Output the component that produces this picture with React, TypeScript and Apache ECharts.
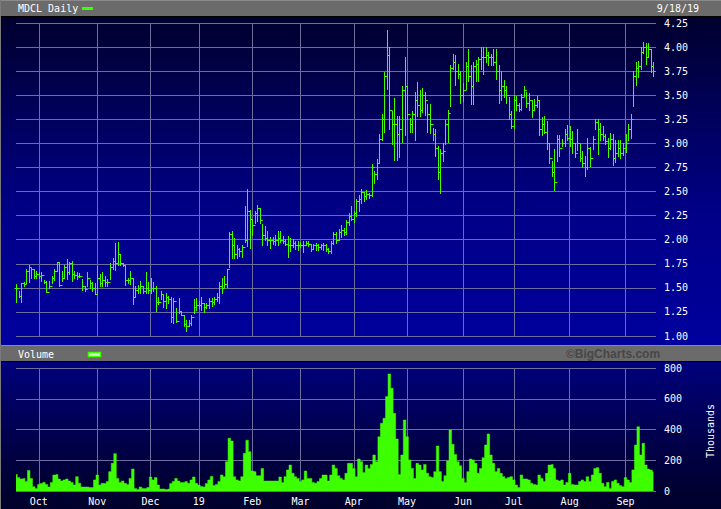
import React, { useEffect, useRef } from "react";
import * as echarts from "echarts";

// ---- categories: NYSE trading days 2018-09-18 .. 2019-09-18 ----
const START_DATE = "2018-09-18";
const END_DATE = "2019-09-18";
const HOLIDAYS = [
  "2018-11-22", "2018-12-05", "2018-12-25", "2019-01-01", "2019-01-21",
  "2019-02-18", "2019-04-19", "2019-05-27", "2019-07-04", "2019-09-02",
];
const MONTH_LABELS = ["19", "Feb", "Mar", "Apr", "May", "Jun", "Jul", "Aug", "Sep", "Oct", "Nov", "Dec"];
const PRICE_TICKS = { min: 1, max: 4.25, interval: 0.25 };
const VOLUME_TICKS = { min: 0, max: 800, interval: 200 };

// ---- daily highs / lows / closes (one line per month) ----
const highs = [
  1.54, 1.47, 1.55, 1.56, 1.70, 1.74, 1.71, 1.70, 1.67,
  1.66, 1.66, 1.58, 1.57, 1.57, 1.62, 1.70, 1.77, 1.77, 1.67, 1.74, 1.80, 1.77, 1.78, 1.67, 1.66, 1.65, 1.59, 1.52, 1.66, 1.58, 1.56, 1.55,
  1.73, 1.64, 1.66, 1.62, 1.59, 1.76, 1.81, 1.97, 1.98, 1.85, 1.76, 1.74, 1.60, 1.68, 1.60, 1.52, 1.53, 1.57, 1.52, 1.66, 1.56,
  1.60, 1.56, 1.52, 1.40, 1.47, 1.43, 1.45, 1.42, 1.40, 1.39, 1.29, 1.39, 1.26, 1.22, 1.17, 1.17, 1.22, 1.38, 1.39,
  1.36, 1.41, 1.34, 1.34, 1.39, 1.39, 1.40, 1.45, 1.56, 1.60, 1.62, 1.70, 2.08, 2.09, 2.02, 1.95, 1.91, 1.94, 2.35, 2.53, 2.31,
  2.21, 2.30, 2.36, 2.33, 2.16, 2.14, 2.09, 2.03, 2.03, 2.05, 2.09, 2.09, 2.04, 2.01, 2.04, 2.02, 2.01, 1.99, 1.99,
  1.98, 1.99, 1.99, 1.99, 1.96, 1.96, 1.97, 1.96, 1.96, 1.97, 1.96, 1.91, 1.99, 2.08, 2.08, 2.11, 2.15, 2.12, 2.20, 2.28, 2.35,
  2.30, 2.42, 2.46, 2.53, 2.50, 2.52, 2.48, 2.79, 2.71, 2.84, 3.10, 3.31, 3.74, 4.18, 4.00, 3.34, 3.47, 3.28, 3.28, 3.60, 3.90,
  3.60, 3.26, 3.34, 3.53, 3.64, 3.55, 3.57, 3.53, 3.41, 3.41, 3.16, 3.15, 2.97, 2.94, 3.00, 3.24, 3.35, 3.81, 3.93, 3.92, 3.82, 3.75,
  3.63, 3.84, 3.98, 3.81, 3.85, 3.87, 3.90, 4.00, 4.00, 4.00, 3.95, 3.93, 3.98, 3.98, 3.81, 3.75, 3.66, 3.60, 3.48, 3.34,
  3.50, 3.49, 3.42, 3.51, 3.60, 3.53, 3.52, 3.45, 3.46, 3.49, 3.45, 3.27, 3.28, 3.23, 3.00, 2.82, 2.94, 3.09, 3.09, 3.05, 3.15, 3.19,
  3.18, 3.13, 3.00, 3.15, 2.99, 2.92, 2.87, 3.06, 2.96, 3.08, 3.25, 3.25, 3.21, 3.18, 3.10, 3.06, 3.11, 3.10, 3.04, 3.04, 3.04, 3.00,
  3.10, 3.20, 3.30, 3.75, 3.84, 3.86, 4.00, 4.05, 4.04, 4.04, 3.98, 3.84,
];
const lows = [
  1.35, 1.40, 1.35, 1.52, 1.55, 1.56, 1.60, 1.60, 1.60,
  1.60, 1.57, 1.55, 1.46, 1.50, 1.55, 1.58, 1.67, 1.52, 1.57, 1.60, 1.59, 1.64, 1.57, 1.60, 1.59, 1.61, 1.48, 1.47, 1.52, 1.50, 1.47, 1.44,
  1.44, 1.52, 1.52, 1.52, 1.52, 1.59, 1.70, 1.69, 1.74, 1.74, 1.73, 1.53, 1.55, 1.54, 1.33, 1.40, 1.45, 1.45, 1.45, 1.45, 1.45,
  1.45, 1.47, 1.26, 1.33, 1.38, 1.30, 1.29, 1.34, 1.15, 1.13, 1.15, 1.24, 1.22, 1.10, 1.05, 1.10, 1.11, 1.24, 1.27,
  1.29, 1.27, 1.25, 1.29, 1.29, 1.31, 1.33, 1.36, 1.34, 1.45, 1.51, 1.51, 1.72, 1.81, 1.81, 1.81, 1.83, 1.82, 1.98, 1.93, 1.91,
  2.05, 2.17, 2.19, 2.17, 1.95, 2.00, 1.95, 1.91, 1.96, 1.94, 1.95, 1.98, 1.97, 1.94, 1.82, 1.88, 1.92, 1.90, 1.89,
  1.92, 1.87, 1.94, 1.93, 1.88, 1.90, 1.89, 1.89, 1.90, 1.89, 1.88, 1.86, 1.86, 1.96, 1.97, 2.00, 2.03, 2.05, 2.06, 2.15, 2.20,
  2.18, 2.25, 2.30, 2.38, 2.40, 2.42, 2.43, 2.45, 2.59, 2.63, 2.80, 3.04, 3.12, 3.56, 3.15, 2.99, 2.83, 2.83, 2.86, 3.01, 3.09,
  3.25, 3.12, 3.12, 3.03, 3.28, 3.28, 3.33, 3.29, 3.12, 3.11, 3.04, 2.87, 2.63, 2.49, 2.82, 2.99, 3.01, 3.39, 3.77, 3.61, 3.68, 3.42,
  3.44, 3.56, 3.65, 3.41, 3.41, 3.65, 3.65, 3.77, 3.72, 3.85, 3.81, 3.81, 3.81, 3.67, 3.42, 3.45, 3.48, 3.42, 3.25, 3.16,
  3.16, 3.35, 3.34, 3.35, 3.49, 3.38, 3.35, 3.27, 3.35, 3.38, 3.09, 3.09, 3.11, 2.94, 2.80, 2.66, 2.52, 2.82, 2.87, 2.97, 2.97, 3.04,
  2.97, 2.90, 2.86, 2.93, 2.82, 2.75, 2.66, 2.73, 2.77, 2.94, 3.15, 2.89, 3.04, 3.04, 2.99, 2.86, 2.94, 2.78, 2.81, 2.87, 2.85, 2.88,
  2.91, 3.04, 3.06, 3.39, 3.61, 3.69, 3.77, 3.94, 3.82, 3.90, 3.74, 3.70,
];
const closes = [
  1.50, 1.42, 1.55, 1.54, 1.68, 1.72, 1.70, 1.62, 1.64,
  1.62, 1.63, 1.56, 1.46, 1.52, 1.60, 1.68, 1.77, 1.53, 1.60, 1.72, 1.66, 1.76, 1.64, 1.63, 1.62, 1.62, 1.52, 1.49, 1.60, 1.55, 1.50, 1.44,
  1.60, 1.55, 1.58, 1.56, 1.56, 1.72, 1.78, 1.76, 1.85, 1.76, 1.74, 1.58, 1.58, 1.60, 1.40, 1.48, 1.50, 1.52, 1.47, 1.50, 1.48,
  1.50, 1.50, 1.35, 1.35, 1.44, 1.36, 1.40, 1.38, 1.20, 1.36, 1.16, 1.26, 1.22, 1.12, 1.10, 1.13, 1.20, 1.30, 1.32,
  1.32, 1.34, 1.30, 1.32, 1.36, 1.35, 1.38, 1.40, 1.52, 1.50, 1.54, 1.70, 2.06, 1.95, 1.85, 1.90, 1.88, 1.92, 2.00, 2.30, 2.22,
  2.15, 2.28, 2.33, 2.20, 2.05, 2.02, 2.00, 2.00, 1.99, 2.00, 2.02, 2.00, 1.99, 1.96, 1.94, 1.95, 1.97, 1.95, 1.94,
  1.95, 1.95, 1.97, 1.96, 1.90, 1.94, 1.95, 1.92, 1.94, 1.95, 1.90, 1.88, 1.97, 2.06, 2.00, 2.08, 2.10, 2.08, 2.18, 2.25, 2.22,
  2.28, 2.40, 2.42, 2.50, 2.45, 2.47, 2.46, 2.75, 2.68, 2.80, 3.05, 3.25, 3.70, 3.92, 3.35, 3.20, 3.20, 3.10, 3.15, 3.55, 3.60,
  3.30, 3.20, 3.30, 3.45, 3.40, 3.35, 3.50, 3.45, 3.30, 3.20, 3.10, 2.95, 2.70, 2.90, 2.92, 3.20, 3.32, 3.78, 3.85, 3.75, 3.72, 3.50,
  3.55, 3.80, 3.70, 3.60, 3.80, 3.82, 3.88, 3.90, 3.90, 3.92, 3.90, 3.90, 3.85, 3.75, 3.55, 3.60, 3.55, 3.50, 3.30, 3.18,
  3.45, 3.40, 3.36, 3.48, 3.55, 3.42, 3.45, 3.35, 3.40, 3.45, 3.15, 3.20, 3.12, 3.00, 2.85, 2.70, 2.60, 3.05, 2.95, 3.00, 3.10, 3.06,
  3.05, 3.00, 2.90, 3.00, 2.85, 2.80, 2.75, 2.95, 2.85, 3.05, 3.22, 3.15, 3.10, 3.08, 3.02, 2.95, 3.05, 2.85, 2.90, 2.95, 2.90, 2.95,
  3.00, 3.15, 3.25, 3.70, 3.78, 3.80, 3.95, 4.00, 3.90, 3.98, 3.80, 3.75,
];
// ---- daily volume, thousands ----
const volumes = [
  108, 87, 78, 82, 61, 134, 82, 28, 17,
  43, 48, 56, 43, 26, 56, 104, 108, 78, 65, 72, 78, 65, 56, 39, 93, 50, 26, 26, 26, 22, 22, 72,
  104, 39, 50, 48, 61, 126, 180, 243, 82, 56, 65, 50, 43, 82, 143, 17, 9, 26, 17, 17, 22,
  91, 72, 87, 39, 13, 13, 9, 13, 48, 61, 82, 65, 56, 56, 61, 50, 72, 91, 50,
  39, 30, 26, 48, 72, 95, 35, 43, 61, 104, 93, 191, 343, 325, 93, 72, 65, 93, 245, 330, 256,
  130, 126, 100, 100, 147, 65, 65, 65, 65, 65, 65, 91, 56, 93, 137, 169, 115, 93, 82,
  61, 72, 130, 82, 82, 56, 50, 61, 82, 104, 104, 65, 104, 169, 147, 100, 82, 72, 115, 180, 180,
  147, 93, 208, 191, 121, 169, 147, 173, 234, 191, 353, 440, 473, 614, 761, 668, 505, 338, 108, 234, 462,
  353, 202, 147, 82, 180, 169, 137, 173, 115, 93, 87, 126, 293, 126, 61, 100, 195, 397, 304, 238, 191, 165,
  82, 56, 126, 208, 202, 180, 115, 147, 217, 299, 371, 234, 180, 126, 147, 115, 93, 82, 87, 93,
  72, 39, 22, 104, 78, 78, 72, 50, 43, 39, 104, 82, 61, 115, 169, 173, 147, 72, 65, 72, 39, 56,
  115, 43, 39, 39, 61, 72, 61, 93, 61, 104, 147, 152, 115, 50, 28, 56, 17, 61, 72, 50, 35, 28,
  87, 72, 56, 137, 299, 418, 234, 310, 169, 143, 137, 126,
];

const GREEN = "#3dff00";
const GRID_COLOR = "#6e6e9e";
const MONO = "'DejaVu Sans Mono', monospace";

function tradingDays(): string[] {
  const out: string[] = [];
  const d = new Date(START_DATE + "T00:00:00Z");
  const end = new Date(END_DATE + "T00:00:00Z");
  while (d.getTime() <= end.getTime()) {
    const dow = d.getUTCDay();
    const s = d.toISOString().slice(0, 10);
    if (dow !== 0 && dow !== 6 && HOLIDAYS.indexOf(s) < 0) out.push(s);
    d.setUTCDate(d.getUTCDate() + 1);
  }
  return out;
}

export default function App() {
  const ref = useRef<HTMLDivElement>(null);

  useEffect(() => {
    if (!ref.current) return;
    const chart = echarts.init(ref.current, undefined, { renderer: "svg" });

    const days = tradingDays();
    const categories = [...days, ""];
    const monthStarts = new Set<number>();
    for (let i = 1; i < days.length; i++) {
      if (days[i].slice(5, 7) !== days[i - 1].slice(5, 7)) monthStarts.add(i);
    }
    const isMonthStart = (idx: number) => monthStarts.has(idx);

    const n = Math.min(days.length, closes.length, highs.length, lows.length);
    const priceRows: number[][] = [];
    for (let i = 0; i < n; i++) {
      const open = i > 0 ? closes[i - 1] : closes[i];
      priceRows.push([i, open, closes[i], lows[i], highs[i]]);
    }
    const volData = volumes.slice(0, days.length);

    const xCommon = (gridIndex: number, showLabels: boolean) => ({
      type: "category" as const,
      gridIndex,
      data: categories,
      boundaryGap: false,
      axisLine: { show: false },
      axisTick: { show: false, interval: isMonthStart },
      axisLabel: {
        show: showLabels,
        interval: isMonthStart,
        color: "#ffffff",
        fontFamily: MONO,
        fontSize: 10,
        margin: 5,
        formatter: (v: string) => (v ? MONTH_LABELS[parseInt(v.slice(5, 7), 10) - 1] : ""),
      },
      splitLine: { show: true, interval: isMonthStart, lineStyle: { color: GRID_COLOR, width: 1 } },
    });

    chart.setOption({
      animation: false,
      backgroundColor: "transparent",
      grid: [
        { left: 16, right: 65, top: 23, height: 313 },
        { left: 16, right: 65, top: 368, height: 123 },
      ],
      xAxis: [xCommon(0, false), xCommon(1, true)],
      yAxis: [
        {
          type: "value",
          gridIndex: 0,
          position: "right",
          min: PRICE_TICKS.min,
          max: PRICE_TICKS.max,
          interval: PRICE_TICKS.interval,
          axisLine: { show: false },
          axisTick: { show: false },
          axisLabel: {
            color: "#ffffff",
            fontFamily: MONO,
            fontSize: 10,
            margin: 8,
            formatter: (v: number) => v.toFixed(2),
          },
          splitLine: { lineStyle: { color: GRID_COLOR, width: 1 } },
        },
        {
          type: "value",
          gridIndex: 1,
          position: "right",
          min: VOLUME_TICKS.min,
          max: VOLUME_TICKS.max,
          interval: VOLUME_TICKS.interval,
          axisLine: { show: false },
          axisTick: { show: false },
          axisLabel: { color: "#ffffff", fontFamily: MONO, fontSize: 10, margin: 8 },
          splitLine: { lineStyle: { color: GRID_COLOR, width: 1 } },
        },
      ],
      series: [
        {
          type: "custom",
          name: "MDCL",
          xAxisIndex: 0,
          yAxisIndex: 0,
          encode: { x: 0, y: [1, 2, 3, 4] },
          data: priceRows,
          silent: true,
          renderItem: (_params: any, api: any) => {
            const idx = api.value(0);
            const pH = api.coord([idx, api.value(4)]);
            const pL = api.coord([idx, api.value(3)]);
            const pO = api.coord([idx, api.value(1)]);
            const pC = api.coord([idx, api.value(2)]);
            const x = Math.round(pH[0]) + 0.5;
            const yo = Math.round(pO[1]) + 0.5;
            const yc = Math.round(pC[1]) + 0.5;
            const style = { stroke: GREEN, lineWidth: 1 };
            return {
              type: "group",
              children: [
                { type: "line", shape: { x1: x, y1: Math.round(pH[1]), x2: x, y2: Math.round(pL[1]) + 1 }, style },
                { type: "line", shape: { x1: x - 2, y1: yo, x2: x, y2: yo }, style },
                { type: "line", shape: { x1: x, y1: yc, x2: x + 2, y2: yc }, style },
              ],
            };
          },
        },
        {
          type: "line",
          name: "Volume",
          xAxisIndex: 1,
          yAxisIndex: 1,
          data: volData,
          step: "middle",
          symbol: "none",
          silent: true,
          lineStyle: { color: GREEN, width: 0.5 },
          areaStyle: { color: GREEN, opacity: 1 },
        },
      ],
      graphic: [
        // top header bar
        { type: "rect", shape: { x: 0, y: 0, width: 721, height: 16 }, style: { fill: "#6b6b6b" } },
        { type: "line", shape: { x1: 0, y1: 0.5, x2: 721, y2: 0.5 }, style: { stroke: "#8a8a8a", lineWidth: 1 } },
        { type: "line", shape: { x1: 0, y1: 16.5, x2: 721, y2: 16.5 }, style: { stroke: "#000000", lineWidth: 1 } },
        {
          type: "text",
          x: 18,
          y: 8,
          style: { text: "MDCL Daily", fill: "#ffffff", font: `10px ${MONO}`, verticalAlign: "middle" },
        },
        { type: "rect", shape: { x: 82, y: 7, width: 11, height: 3 }, style: { fill: GREEN } },
        {
          type: "text",
          x: 699,
          y: 8,
          style: { text: "9/18/19", fill: "#ffffff", font: `10px ${MONO}`, align: "right", verticalAlign: "middle" },
        },
        // volume header bar
        { type: "rect", shape: { x: 0, y: 346, width: 721, height: 15 }, style: { fill: "#6b6b6b" } },
        { type: "line", shape: { x1: 0, y1: 345.5, x2: 721, y2: 345.5 }, style: { stroke: "#8a8a8a", lineWidth: 1 } },
        { type: "line", shape: { x1: 0, y1: 361.5, x2: 721, y2: 361.5 }, style: { stroke: "#000000", lineWidth: 1 } },
        {
          type: "text",
          x: 18,
          y: 354,
          style: { text: "Volume", fill: "#ffffff", font: `10px ${MONO}`, verticalAlign: "middle" },
        },
        {
          type: "rect",
          shape: { x: 88.5, y: 352.5, width: 12, height: 4 },
          style: { fill: "#d8ffd0", stroke: GREEN, lineWidth: 1.5 },
        },
        {
          type: "text",
          x: 613,
          y: 354,
          style: {
            text: "©BigCharts.com",
            fill: "#474747",
            font: "bold 12px 'Liberation Sans', Arial, sans-serif",
            align: "center",
            verticalAlign: "middle",
          },
        },
        {
          type: "text",
          x: 710,
          y: 431,
          rotation: Math.PI / 2,
          style: {
            text: "Thousands",
            fill: "#ffffff",
            font: `10px ${MONO}`,
            align: "center",
            verticalAlign: "middle",
          },
        },
        // left frame edge
        { type: "line", shape: { x1: 0.5, y1: 0, x2: 0.5, y2: 509 }, style: { stroke: "#7a7a7a", lineWidth: 1 } },
      ],
    });

    return () => chart.dispose();
  }, []);

  return (
    <div style={{ position: "fixed", left: 0, top: 0, width: 721, height: 509, background: "#00002c", overflow: "hidden" }}>
      <div
        style={{
          position: "absolute",
          left: 0,
          top: 17,
          width: 721,
          height: 329,
          background: "linear-gradient(#00002e 0%, #00005c 30%, #000088 60%, #00009e 100%)",
        }}
      />
      <div
        style={{
          position: "absolute",
          left: 0,
          top: 362,
          width: 721,
          height: 147,
          background: "linear-gradient(#00007c 0%, #00004e 50%, #000030 88%, #00002c 100%)",
        }}
      />
      <div ref={ref} style={{ position: "absolute", left: 0, top: 0, width: 721, height: 509 }} />
    </div>
  );
}
